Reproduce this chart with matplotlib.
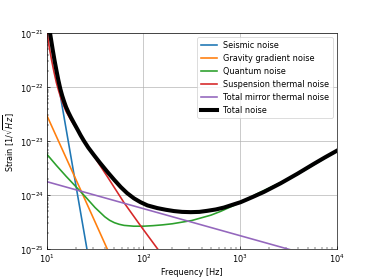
import numpy as np
import matplotlib
matplotlib.use("Agg")
import matplotlib.pyplot as plt

# log10 frequency [Hz] and log10 strain [1/sqrt(Hz)]
seismic_logf = [1.0, 1.2, 1.45]
seismic_logs = [-20.71, -22.77, -25.35]

gravity_logf = [1.0, 1.35, 1.7]
gravity_logs = [-22.52, -23.90, -25.29]

quantum_logf = [1.0, 1.1, 1.2, 1.3, 1.4, 1.5, 1.6, 1.65, 1.7, 1.75, 1.8, 1.9, 2.0,
                2.1, 2.2, 2.3, 2.4, 2.5, 2.6, 2.7, 2.8, 2.9, 3.0, 3.2, 3.4, 3.6,
                3.8, 4.0]
quantum_logs = [-23.24, -23.45, -23.65, -23.84, -24.03, -24.23, -24.40, -24.465,
                -24.51, -24.54, -24.56, -24.575, -24.575, -24.565, -24.55, -24.53,
                -24.50, -24.47, -24.42, -24.37, -24.30, -24.22, -24.14, -23.955,
                -23.785, -23.61, -23.40, -23.185]

suspension_logf = [1.0, 1.025, 1.05, 1.075, 1.1, 1.125, 1.15, 1.175, 1.2, 1.25, 1.3,
                   1.4, 1.5, 1.628, 1.8, 1.972, 2.145, 2.2]
suspension_logs = [-20.95, -21.25, -21.50, -21.72, -21.92, -22.08, -22.22, -22.34,
                   -22.45, -22.61, -22.75, -23.04, -23.31, -23.66, -24.14, -24.57,
                   -24.99, -25.12]

mirror_logf = [1.0, 2.5, 4.0]
mirror_logs = [-23.75, -24.50, -25.25]

total_logf = [1.0, 1.034, 1.06, 1.08, 1.10, 1.12, 1.14, 1.16, 1.18, 1.20, 1.225,
              1.25, 1.283, 1.32, 1.35, 1.383, 1.43, 1.489, 1.55, 1.628, 1.70,
              1.766, 1.83, 1.903, 1.97, 2.042, 2.145, 2.23, 2.317, 2.40, 2.49,
              2.58, 2.662, 2.75, 2.834, 2.92, 3.007, 3.13, 3.248, 3.421, 3.593,
              3.765, 3.88, 4.0]
total_logs = [-20.65, -21.0, -21.29, -21.50, -21.69, -21.87, -22.03, -22.16, -22.27,
              -22.37, -22.47, -22.56, -22.67, -22.79, -22.89, -22.99, -23.12,
              -23.26, -23.40, -23.57, -23.72, -23.85, -23.96, -24.06, -24.13,
              -24.19, -24.24, -24.27, -24.295, -24.31, -24.315, -24.31, -24.29,
              -24.265, -24.23, -24.18, -24.13, -24.035, -23.94, -23.78, -23.605,
              -23.42, -23.30, -23.18]

series = [
    ("Seismic noise", seismic_logf, seismic_logs, "C0", 2.0),
    ("Gravity gradient noise", gravity_logf, gravity_logs, "C1", 2.0),
    ("Quantum noise", quantum_logf, quantum_logs, "C2", 2.0),
    ("Suspension thermal noise", suspension_logf, suspension_logs, "C3", 2.0),
    ("Total mirror thermal noise", mirror_logf, mirror_logs, "C4", 2.0),
    ("Total noise", total_logf, total_logs, "black", 5.0),
]

fig, ax = plt.subplots(figsize=(6.4, 4.8), dpi=58.44)
for label, lf, ls, color, lw in series:
    ax.loglog(10 ** np.array(lf), 10 ** np.array(ls), color=color, lw=lw,
              label=label, solid_joinstyle="round")

ax.set_xlim(10, 1e4)
ax.set_ylim(1e-25, 1e-21)
ax.grid(True, which="major", color="#b0b0b0", lw=0.8)
ax.tick_params(which="both", direction="in")
ax.set_xlabel("Frequency [Hz]")
ax.set_ylabel(r"Strain [$1/\sqrt{Hz}$]")
ax.legend(loc="upper right")
fig.savefig("out.png", dpi=58.44)
